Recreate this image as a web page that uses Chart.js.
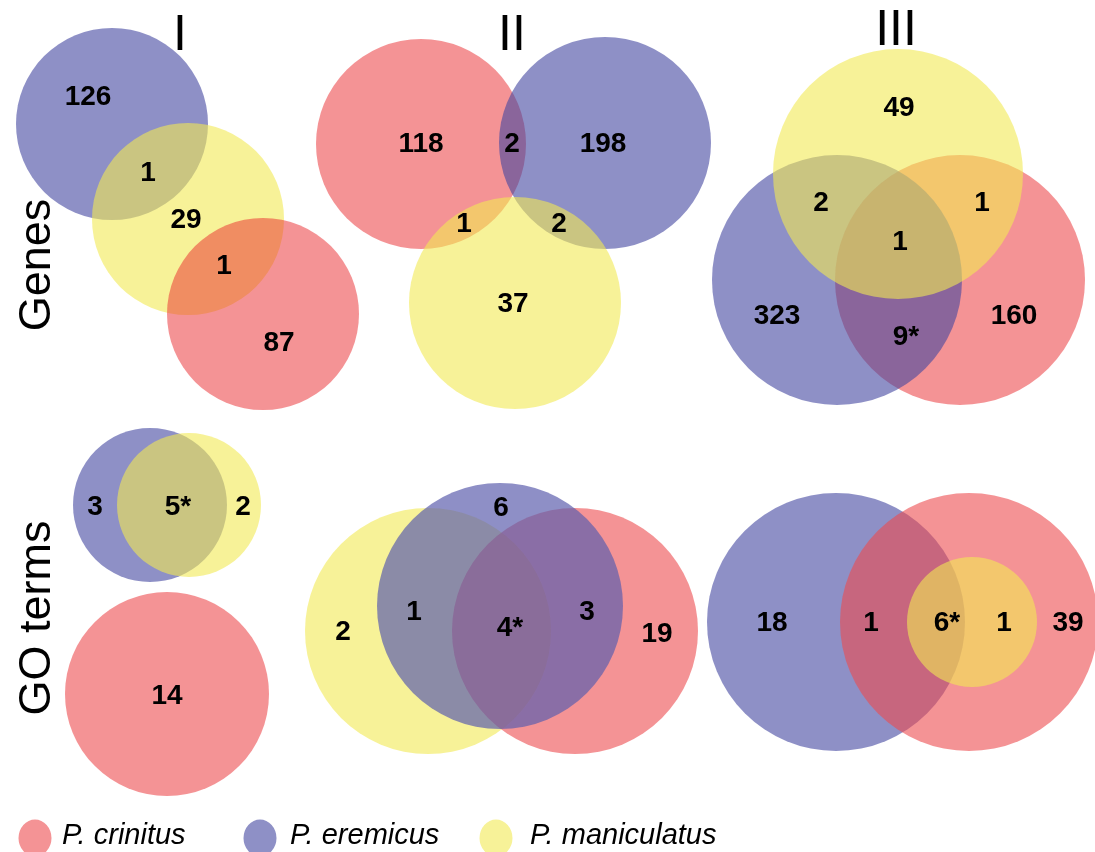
<!DOCTYPE html>
<html>
<head>
<meta charset="utf-8">
<title>Venn diagrams</title>
<script src="https://cdn.jsdelivr.net/npm/chart.js@4.4.1/dist/chart.umd.min.js"></script>
<style>
  html, body { margin: 0; padding: 0; background: #fff; }
  #wrap { width: 1095px; height: 852px; position: relative; }
</style>
</head>
<body>
<div id="wrap"><canvas id="venn"></canvas></div>
<script>
'use strict';

// Species (0 = P. crinitus, 1 = P. eremicus, 2 = P. maniculatus)
const species = ['P. crinitus', 'P. eremicus', 'P. maniculatus'];
const speciesColors = ['#f49395', '#8e90c6', '#f7f298'];

const columnTitles = ['I', 'II', 'III'];
const rowTitles = ['Genes', 'GO terms'];

// Region counts of each diagram
const genesI = ['126', '1', '29', '1', '87'];
const genesII = ['118', '2', '198', '1', '2', '37'];
const genesIII = ['49', '2', '1', '1', '323', '9*', '160'];
const goI = ['3', '5*', '2', '14'];
const goII = ['6', '2', '1', '4*', '3', '19'];
const goIII = ['18', '1', '6*', '1', '39'];

// Layout: circles [species, x, y, radius, alpha] in drawing order, and where each count sits
const diagrams = [
  { counts: genesI,
    circles: [[1, 112, 124, 96], [2, 188, 219, 96], [0, 263, 314, 96, 0.5]],
    spots: [[88, 97], [148, 173], [186, 220], [224, 266], [279, 343]] },
  { counts: genesII,
    circles: [[0, 421, 144, 105], [1, 605, 143, 106], [2, 515, 303, 106]],
    spots: [[421, 144], [512, 144], [603, 144], [464, 224], [559, 224], [513, 304]] },
  { counts: genesIII,
    circles: [[0, 960, 280, 125], [1, 837, 280, 125], [2, 898, 174, 125]],
    spots: [[899, 108], [821, 203], [982, 203], [900, 242], [777, 316], [906, 337], [1014, 316]] },
  { counts: goI,
    circles: [[1, 150, 505, 77], [2, 189, 505, 72], [0, 167, 694, 102]],
    spots: [[95, 507], [178, 507], [243, 507], [167, 696]] },
  { counts: goII,
    circles: [[2, 428, 631, 123], [0, 575, 631, 123], [1, 500, 606, 123, 0.7]],
    spots: [[501, 508], [343, 632], [414, 612], [510, 628], [587, 612], [657, 634]] },
  { counts: goIII,
    circles: [[1, 836, 622, 129], [0, 969, 622, 129], [2, 972, 622, 65]],
    spots: [[772, 623], [871, 623], [947, 623], [1004, 623], [1068, 623]] }
];

const X_MIN = 0, X_MAX = 1095, Y_MIN = 0, Y_MAX = 852;
const FONT = "'Liberation Sans', Arial, Helvetica, sans-serif";

// colour that gives the same shade on white at the given alpha
function tint(hex, alpha) {
  const c = [1, 3, 5].map(i => parseInt(hex.substr(i, 2), 16));
  const base = c.map(v => Math.max(0, Math.round(255 - (255 - v) / alpha)));
  return 'rgba(' + base.join(',') + ',' + alpha + ')';
}

// circle size is in x-axis units; the scale may not be laid out yet when this runs
function unitRadius(ctx) {
  if (!ctx.raw) return 0;
  return ctx.raw.size * ctx.chart.width / (X_MAX - X_MIN);
}

// Counts, titles and key
const vennText = {
  id: 'vennText',
  afterDatasetsDraw(chart) {
    const {ctx, scales: {x, y}} = chart;
    ctx.save();
    ctx.fillStyle = '#000';

    ctx.font = 'bold 28px ' + FONT;
    ctx.textAlign = 'center';
    ctx.textBaseline = 'middle';
    diagrams.forEach(d => {
      d.counts.forEach((txt, i) => {
        ctx.fillText(txt, x.getPixelForValue(d.spots[i][0]), y.getPixelForValue(d.spots[i][1]));
      });
    });

    ctx.font = '50px ' + FONT;
    ctx.textBaseline = 'alphabetic';
    [[180, 50], [512, 50], [896, 45]].forEach((p, i) => {
      ctx.fillText(columnTitles[i], p[0], p[1]);
    });

    ctx.font = '45px ' + FONT;
    [[50, 265], [50, 618]].forEach((p, i) => {
      ctx.save();
      ctx.translate(p[0], p[1]);
      ctx.rotate(-Math.PI / 2);
      ctx.fillText(rowTitles[i], 0, 0);
      ctx.restore();
    });

    // key
    ctx.font = 'italic 29px ' + FONT;
    ctx.textAlign = 'left';
    [[35, 62], [260, 290], [496, 530]].forEach((p, i) => {
      ctx.fillStyle = speciesColors[i];
      ctx.beginPath();
      ctx.ellipse(p[0], 838, 16.5, 18.5, 0, 0, Math.PI * 2);
      ctx.fill();
      ctx.fillStyle = '#000';
      ctx.fillText(species[i], p[1], 844);
    });
    ctx.restore();
  }
};

new Chart(document.getElementById('venn'), {
  type: 'bubble',
  data: {
    datasets: diagrams.map(d => ({
      data: d.circles.map(c => ({ x: c[1], y: c[2], size: c[3] })),
      backgroundColor: d.circles.map(c => tint(speciesColors[c[0]], c[4] || 0.6)),
      borderWidth: 0,
      radius: unitRadius,
      hoverRadius: 0,
      clip: false
    }))
  },
  options: {
    responsive: true,
    maintainAspectRatio: false,
    animation: false,
    events: [],
    layout: { padding: 0, autoPadding: false },
    plugins: {
      legend: { display: false },
      tooltip: { enabled: false }
    },
    scales: {
      x: { type: 'linear', min: X_MIN, max: X_MAX, display: false },
      y: { type: 'linear', min: Y_MIN, max: Y_MAX, reverse: true, display: false }
    }
  },
  plugins: [vennText]
});
</script>
</body>
</html>
